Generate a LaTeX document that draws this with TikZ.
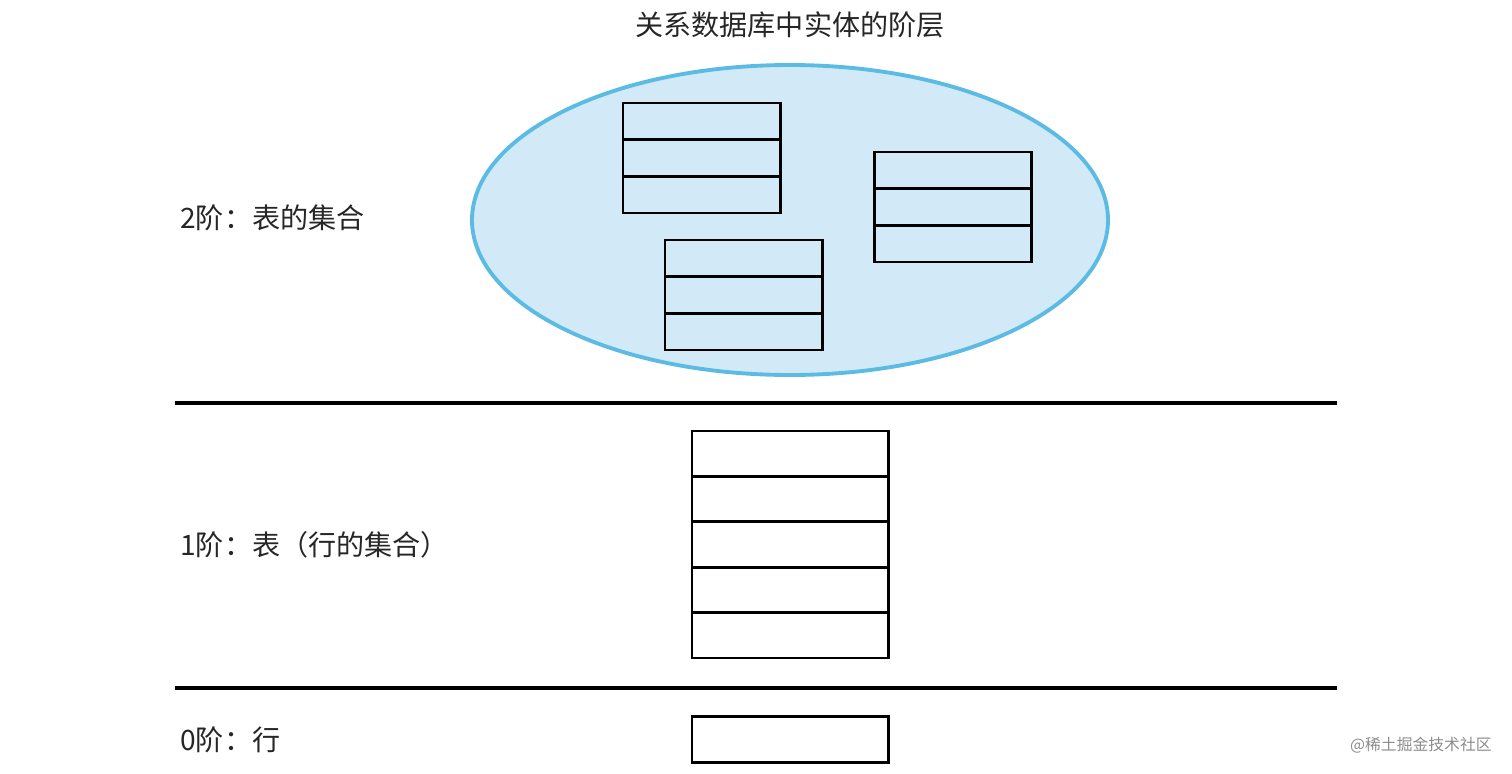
\documentclass[tikz,border=0pt]{standalone}
\usepackage{fontspec}
\newfontfamily\cjk{Noto Sans CJK SC}
\definecolor{ellfill}{HTML}{D2EAF7}
\definecolor{elldraw}{HTML}{5BBBE3}
\begin{document}
\begin{tikzpicture}[x=0.02cm,y=-0.02cm,
  tbl/.style={draw=black,line width=1.7pt},
  sep/.style={draw=black,line width=1.8pt},
  lbl/.style={anchor=west,inner sep=0pt,font=\cjk\fontsize{16}{18}\selectfont,text=black!85},
]
\useasboundingbox (0,0) rectangle (1512,774);
\node[inner sep=0pt,font=\cjk\fontsize{16}{18}\selectfont,text=black!85] (title) at (790,25) {关系数据库中实体的阶层};
\draw[fill=ellfill,draw=elldraw,line width=2.2pt] (790,220) ellipse [x radius=318, y radius=155];
\newcommand\tabl[5]{% x1,y1,x2,y2,rows
  \draw[tbl] (#1,#2) rectangle (#3,#4);
  \foreach \i in {1,...,#5}{\ifnum\i<#5 \draw[tbl] (#1,{#2+(#4-#2)*\i/#5}) -- (#3,{#2+(#4-#2)*\i/#5});\fi}}
\tabl{623}{103}{780}{213}{3}
\tabl{874}{152}{1031}{262}{3}
\tabl{665}{240}{822}{350}{3}
\tabl{692}{431}{888}{658}{5}
\tabl{692}{716}{888}{762}{1}
\coordinate (l1a) at (175,403); \coordinate (l1b) at (1337,403);
\coordinate (l2a) at (175,688); \coordinate (l2b) at (1337,688);
\draw[sep] (l1a) -- (l1b);
\draw[sep] (l2a) -- (l2b);
\node[lbl] (t2) at (180,218) {2阶：表的集合};
\node[lbl] (t1) at (180,545) {1阶：表（行的集合）};
\node[lbl] (t0) at (180,740) {0阶：行};
\node[anchor=east,inner sep=0pt,font=\cjk\fontsize{9}{10}\selectfont,text=black!45] (wm) at (1492,745) {@稀土掘金技术社区};
\end{tikzpicture}
\end{document}
